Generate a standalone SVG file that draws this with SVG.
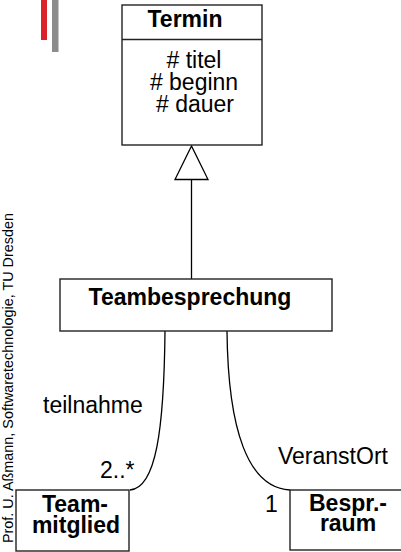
<svg xmlns="http://www.w3.org/2000/svg" width="401" height="552" viewBox="0 0 401 552">
<style>
.box{fill:#fff;stroke:#222;stroke-width:1.4}
.b{font-family:"Liberation Sans",Arial,sans-serif;font-weight:bold;font-size:23px;fill:#000}
.n{font-family:"Liberation Sans",Arial,sans-serif;font-size:23px;fill:#000}
.conn{fill:none;stroke:#000;stroke-width:1.3}
</style>
<rect width="401" height="552" fill="#fff"/>
<rect x="41" y="0" width="6" height="40" fill="#dc2229"/>
<rect x="52" y="0" width="6.5" height="52" fill="#8c8c8c"/>
<text class="n" transform="translate(12.5,213) rotate(-90)" text-anchor="end" style="font-size:14.4px">Prof. U. Aßmann, Softwaretechnologie, TU Dresden</text>
<g id="connectors">
<line class="conn" x1="191.5" y1="179.5" x2="191.5" y2="279"/>
<polygon points="191.5,146 175,179.5 208,179.5" fill="#fff" stroke="#000" stroke-width="1.3"/>
<path class="conn" d="M165,331 C164,430 156,488 130,490"/>
<path class="conn" d="M227,331 C228,430 248,488 290,490"/>
<text class="n" x="43" y="413">teilnahme</text>
<text class="n" x="100" y="478">2..*</text>
<text class="n" x="278" y="464">VeranstOrt</text>
<text class="n" x="265" y="512">1</text>
</g>
<g id="termin">
<rect class="box" x="122" y="5" width="140" height="140"/>
<line x1="122" y1="39.5" x2="262" y2="39.5" stroke="#222" stroke-width="1.4"/>
<text class="b" x="185" y="27" text-anchor="middle">Termin</text>
<text class="n" x="194" y="68" text-anchor="middle"># titel</text>
<text class="n" x="194" y="90" text-anchor="middle"># beginn</text>
<text class="n" x="195" y="112" text-anchor="middle"># dauer</text>
</g>
<g id="teambesprechung">
<rect class="box" x="60" y="279" width="272" height="52"/>
<text class="b" x="190" y="305" text-anchor="middle">Teambesprechung</text>
</g>
<g id="teammitglied">
<rect class="box" x="16" y="490" width="113" height="61"/>
<text class="b" x="75" y="512" text-anchor="middle">Team-</text>
<text class="b" x="76" y="533" text-anchor="middle">mitglied</text>
</g>
<g id="besprraum">
<rect class="box" x="290" y="490" width="115" height="60"/>
<text class="b" x="348" y="511" text-anchor="middle">Bespr.-</text>
<text class="b" x="348" y="531" text-anchor="middle">raum</text>
</g>
</svg>
